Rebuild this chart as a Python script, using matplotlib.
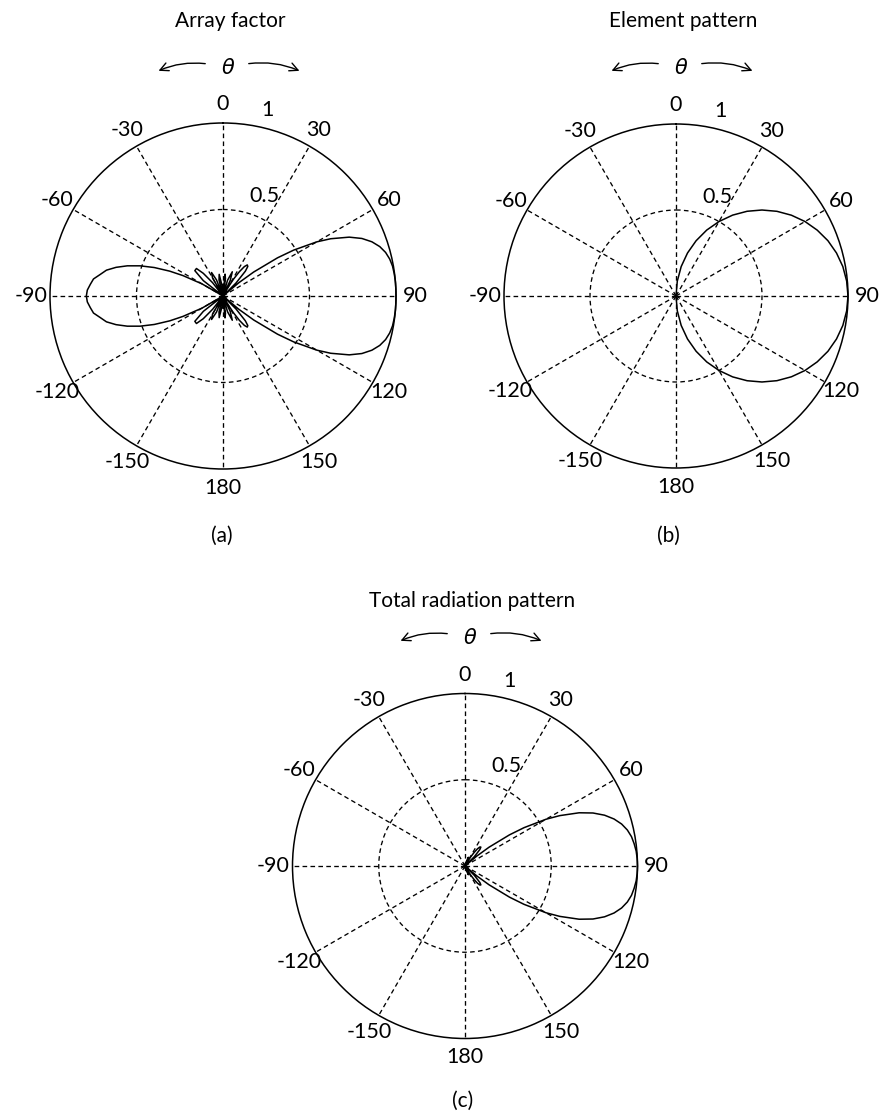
import numpy as np
import matplotlib
matplotlib.use('Agg')
import matplotlib.pyplot as plt
from matplotlib.patches import FancyArrowPatch
from matplotlib.transforms import offset_copy

# Pattern samples
# angle in degrees, clockwise from the top (0) as in the figure
af_angle = [-180, -177.3, -175, -170, -166, -162, -158, -154, -150, -145.2,
            -142, -139, -136, -132, -128, -123.6, -120, -117, -115, -112.5,
            -110, -107.5, -105, -102.5, -100, -97.5, -95, -92.5, -90, -87.5,
            -85, -82.5, -80, -77.5, -75, -72.5, -70, -67.5,
            -65, -63, -60, -56.4, -52, -48, -44, -41, -38, -34.8,
            -30, -26, -22, -18, -14, -10, -5, -2.7, 0, 2.7,
            5.3, 8, 12.4, 16, 21, 25, 28.4, 30, 32, 34,
            36, 38, 40, 42, 45, 47.6, 50, 52, 55, 57,
            60, 62, 65, 67.5, 70, 72.5, 75, 77.5, 80, 82.5,
            85, 87.5, 90, 92.5, 95, 97.5, 100, 102.5, 105, 107.5,
            110, 112.5, 115, 118, 120, 123, 125, 128,
            130, 132.4, 135, 138, 140, 142, 144, 146, 148, 150,
            151.6, 155, 159, 164, 167.6, 172, 174.7, 177.3, 180]
af_value = [0.067, 0.0, 0.058, 0.127, 0.095, 0.0, 0.100, 0.151, 0.121, 0.0,
            0.097, 0.174, 0.221, 0.219, 0.144, 0.0, 0.14, 0.26, 0.34, 0.43,
            0.51, 0.58, 0.64, 0.69, 0.72, 0.755, 0.77, 0.785, 0.79, 0.785,
            0.77, 0.755, 0.72, 0.69, 0.64, 0.58, 0.51, 0.43,
            0.34, 0.26, 0.14, 0.0, 0.144, 0.219, 0.221, 0.174, 0.097, 0.0,
            0.121, 0.151, 0.100, 0.0, 0.095, 0.127, 0.058, 0.0, 0.067, 0.0,
            0.127, 0.102, 0.0, 0.094, 0.150, 0.099, 0.0, 0.051, 0.115, 0.170,
            0.210, 0.228, 0.223, 0.193, 0.107, 0.0, 0.119, 0.225, 0.385, 0.487,
            0.626, 0.705, 0.805, 0.869, 0.916, 0.950, 0.973, 0.987, 0.995, 0.998,
            1.0, 1.0, 1.0, 1.0, 1.0, 0.998, 0.995, 0.987, 0.973, 0.950,
            0.916, 0.869, 0.805, 0.705, 0.626, 0.487, 0.385, 0.225,
            0.119, 0.0, 0.107, 0.193, 0.223, 0.228, 0.210, 0.170, 0.115, 0.051,
            0.0, 0.099, 0.150, 0.094, 0.0, 0.102, 0.127, 0.0, 0.067]

elem_angle = [0, 5, 10, 15, 20, 25, 30, 35, 40, 45, 50, 55, 60, 65, 70, 75, 80, 85,
              90, 95, 100, 105, 110, 115, 120, 125, 130, 135, 140, 145, 150, 155,
              160, 165, 170, 175, 180]
elem_value = [0.0, 0.087, 0.174, 0.259, 0.342, 0.423, 0.5, 0.574, 0.643, 0.707,
              0.766, 0.819, 0.866, 0.906, 0.940, 0.966, 0.985, 0.996, 1.0, 0.996,
              0.985, 0.966, 0.940, 0.906, 0.866, 0.819, 0.766, 0.707, 0.643, 0.574,
              0.5, 0.423, 0.342, 0.259, 0.174, 0.087, 0.0]

total_angle = [0, 2.7, 5.3, 8, 12.4, 16, 21, 25, 28.4, 30,
               32, 34, 36, 38, 40, 42, 45, 47.6, 50, 52,
               55, 57, 60, 62, 65, 67.5, 70, 72.5, 75, 77.5, 80, 82.5, 85, 87.5,
               90, 92.5, 95, 97.5, 100, 102.5, 105, 107.5, 110, 112.5, 115, 118, 120, 123,
               125, 128, 130, 132.4, 135, 138, 140, 142, 144, 146,
               148, 150, 151.6, 155, 159, 164, 167.6, 172, 174.7, 177.3, 180]
total_value = [0.0, 0.0, 0.012, 0.014, 0.0, 0.026, 0.054, 0.042, 0.0, 0.026,
               0.061, 0.095, 0.123, 0.140, 0.143, 0.129, 0.076, 0.0, 0.091, 0.177,
               0.315, 0.408, 0.542, 0.622, 0.730, 0.803, 0.861, 0.906, 0.940, 0.964,
               0.980, 0.989, 0.996, 0.999,
               1.0, 0.999, 0.996, 0.989, 0.980, 0.964, 0.940, 0.906, 0.861, 0.803,
               0.730, 0.622, 0.542, 0.408,
               0.315, 0.177, 0.091, 0.0, 0.076, 0.129, 0.143, 0.140, 0.123, 0.095,
               0.061, 0.026, 0.0, 0.042, 0.054, 0.026, 0.0, 0.014, 0.012, 0.0, 0.0]

spoke_angles = [0, 30, 60, 90, 120, 150, 180, 210, 240, 270, 300, 330]
spoke_labels = ['0', '30', '60', '90', '120', '150', '180',
                '-150', '-120', '-90', '-60', '-30']
ring_values = [0.5, 1]
titles = ['Array factor', 'Element pattern', 'Total radiation pattern']
captions = ['(a)', '(b)', '(c)']

W, H = 882, 1120
fig = plt.figure(figsize=(W / 100, H / 100), dpi=100)
plt.rcParams['font.family'] = ['Lato', 'DejaVu Sans']
plt.rcParams['mathtext.fontset'] = 'dejavusans'


def fx(x):
    return x / W


def fy(y):
    return 1 - y / H


def panel(cx, cy, R, angles, values, title, title_base, theta_y, caption, cap_x, cap_y):
    ax = fig.add_axes([fx(cx - R), fy(cy + R), 2 * R / W, 2 * R / H], projection='polar')
    ax.set_theta_zero_location('N')
    ax.set_theta_direction(-1)
    ax.set_ylim(0, 1)
    ax.set_xticks(np.radians(spoke_angles))
    ax.set_yticks([0.5])
    ax.set_xticklabels([])
    ax.set_yticklabels([])
    ax.tick_params(length=0)
    ax.grid(True, color='black', linestyle=(0, (3.5, 2.5)), linewidth=0.95)
    ax.spines['polar'].set_linewidth(1.1)
    ax.spines['polar'].set_color('black')

    ax.plot(np.radians(angles), values, color='black', lw=1.1, clip_on=False)

    # angle labels round the outside
    for a, lab in zip(spoke_angles, spoke_labels):
        ax.text(np.radians(a), 1.11, lab, ha='center', va='center',
                fontsize=15.5, clip_on=False)
    # ring labels
    tr = offset_copy(ax.transData, fig=fig, x=14, y=0, units='dots')
    for rv in ring_values:
        ax.text(np.radians(8), rv + 0.025, '%g' % rv, ha='left', va='bottom',
                fontsize=15.5, transform=tr, clip_on=False)

    # title, theta arrows and caption
    fig.text(fx(cx + 7), fy(title_base), title, ha='center', va='baseline', fontsize=15)
    tx = cx + 5
    fig.text(fx(tx), fy(theta_y), r'$\theta$', ha='center', va='center', fontsize=15)
    fig.add_artist(FancyArrowPatch(
        (fx(tx - 20), fy(theta_y - 4)), (fx(tx - 72), fy(theta_y + 4)),
        transform=fig.transFigure, connectionstyle='arc3,rad=0.15',
        arrowstyle='->,head_length=6,head_width=3', lw=1.0, color='black'))
    fig.add_artist(FancyArrowPatch(
        (fx(tx + 18), fy(theta_y - 4)), (fx(tx + 74), fy(theta_y + 4)),
        transform=fig.transFigure, connectionstyle='arc3,rad=-0.15',
        arrowstyle='->,head_length=6,head_width=3', lw=1.0, color='black'))
    fig.text(fx(cap_x), fy(cap_y), caption, ha='center', va='center', fontsize=15)
    return ax


panel(223, 296, 173, af_angle, af_value, titles[0], 27, 68, captions[0], 222, 536)
panel(676, 296, 172, elem_angle, elem_value, titles[1], 27, 68, captions[1], 668, 536)
panel(465, 866, 172.5, total_angle, total_value, titles[2], 607, 638, captions[2], 463, 1101)

fig.savefig('out.png', dpi=100)
